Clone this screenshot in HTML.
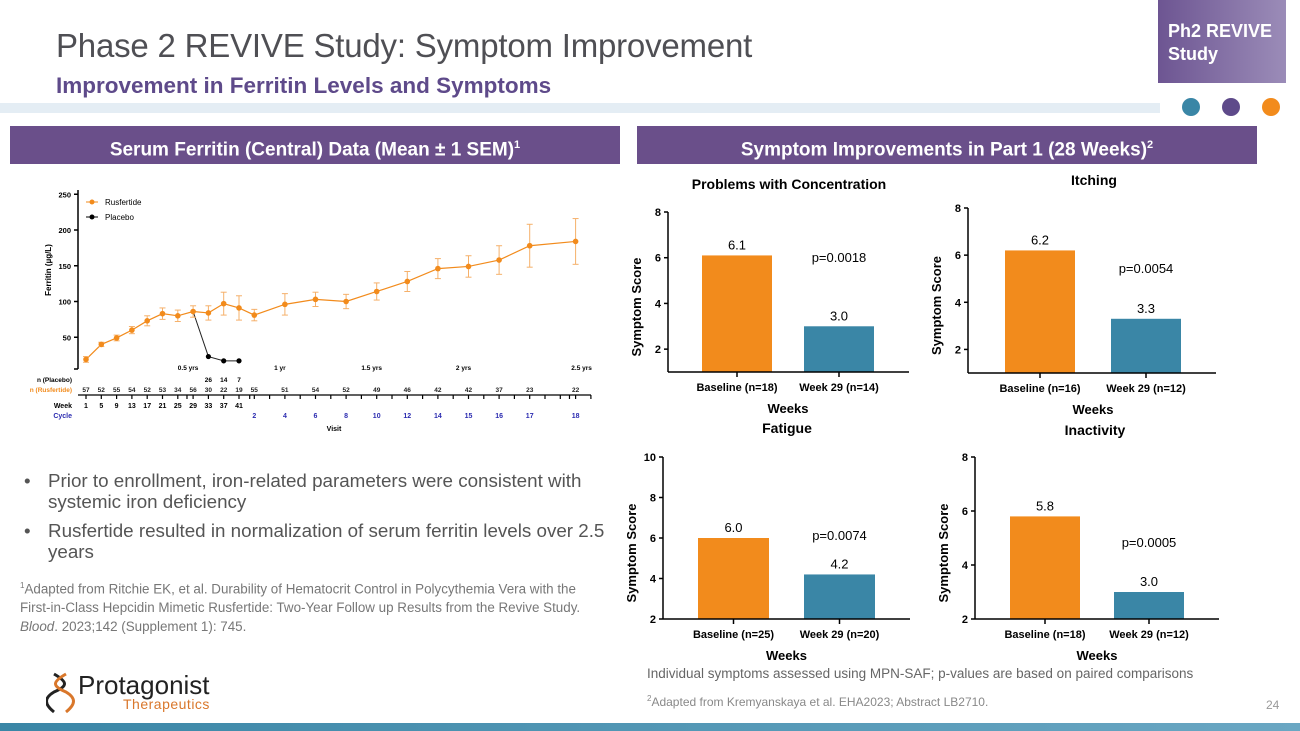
<!DOCTYPE html>
<html><head><meta charset="utf-8">
<style>
body{margin:0;width:1300px;height:731px;position:relative;background:#fff;font-family:"Liberation Sans",sans-serif;overflow:hidden}
.abs{position:absolute}
</style></head><body>
<div class="abs" style="left:56px;top:27px;font-size:33px;color:#4f4f54;letter-spacing:-0.2px">Phase 2 REVIVE Study: Symptom Improvement</div>
<div class="abs" style="left:56px;top:73px;font-size:22.5px;font-weight:bold;color:#5e4a8a">Improvement in Ferritin Levels and Symptoms</div>
<div class="abs" style="left:0;top:103px;width:1160px;height:10px;background:#e4edf4"></div>
<div class="abs" style="left:1158px;top:0;width:128px;height:83px;background:linear-gradient(90deg,#6d5592,#9b8cb8);color:#fff;font-weight:bold;font-size:18px;line-height:23px;padding:20px 0 0 10px;box-sizing:border-box">Ph2 REVIVE<br>Study</div>
<div class="abs" style="left:1182px;top:98px;width:18px;height:18px;border-radius:50%;background:#3a86a6"></div>
<div class="abs" style="left:1222px;top:98px;width:18px;height:18px;border-radius:50%;background:#5e4a8a"></div>
<div class="abs" style="left:1262px;top:98px;width:18px;height:18px;border-radius:50%;background:#f28b1c"></div>
<div class="abs" style="left:10px;top:126px;width:610px;height:38px;background:#6a4f8a;color:#fff;font-weight:bold;font-size:19px;line-height:38px;text-align:center">Serum Ferritin (Central) Data (Mean ± 1 SEM)<sup style="font-size:11px">1</sup></div>
<div class="abs" style="left:637px;top:126px;width:620px;height:38px;background:#6a4f8a;color:#fff;font-weight:bold;font-size:19px;line-height:38px;text-align:center">Symptom Improvements in Part 1 (28 Weeks)<sup style="font-size:11px">2</sup></div>

<svg class="abs" style="left:0;top:0" width="1300" height="731" font-family="Liberation Sans, sans-serif">
<g id="ferr"></g>
<g id="bars"></g>
</svg>

<div class="abs" style="left:24px;top:470px;width:590px;font-size:18.8px;color:#555;line-height:21px">
<div style="display:flex;margin-bottom:8px"><span style="width:24px;flex:none">•</span><span>Prior to enrollment, iron-related parameters were consistent with systemic iron deficiency</span></div>
<div style="display:flex"><span style="width:24px;flex:none">•</span><span>Rusfertide resulted in normalization of serum ferritin levels over 2.5 years</span></div>
</div>
<div class="abs" style="left:20px;top:576px;width:595px;font-size:13.4px;color:#777;line-height:19px"><sup style="font-size:8px">1</sup>Adapted from Ritchie EK, et al. Durability of Hematocrit Control in Polycythemia Vera with the First&#8209;in&#8209;Class Hepcidin Mimetic Rusfertide: Two-Year Follow up Results from the Revive Study. <i>Blood</i>. 2023;142 (Supplement 1): 745.</div>
<div class="abs" style="left:647px;top:666px;font-size:13.5px;color:#666">Individual symptoms assessed using MPN-SAF; p-values are based on paired comparisons</div>
<div class="abs" style="left:647px;top:694px;font-size:12px;color:#888"><sup style="font-size:8px">2</sup>Adapted from Kremyanskaya et al. EHA2023; Abstract LB2710.</div>
<div class="abs" style="left:1266px;top:698px;font-size:12px;color:#999">24</div>
<div class="abs" style="left:46px;top:672px;width:180px;height:42px">
<svg width="30" height="42" style="position:absolute;left:0;top:0"><path d="M8 2 C22 10,22 14,8 20 C-2 26,-2 32,8 40" stroke="#222" stroke-width="3" fill="none"/><path d="M20 2 C6 10,6 14,20 20 C30 26,30 32,20 40" stroke="#d9772b" stroke-width="3" fill="none"/></svg>
<div style="position:absolute;left:32px;top:-2px;font-size:26px;color:#222">Protagonist</div>
<div style="position:absolute;left:77px;top:24px;font-size:14px;color:#d9772b;letter-spacing:0.5px">Therapeutics</div>
</div>
<div class="abs" style="left:0;top:723px;width:1300px;height:8px;background:linear-gradient(90deg,#3a86a6,#6aa7c3)"></div>

<script>
const NS='http://www.w3.org/2000/svg';
function mk(p,t,a,txt){const e=document.createElementNS(NS,t);for(const k in a)e.setAttribute(k,a[k]);if(txt!=null)e.textContent=txt;p.appendChild(e);return e;}

// Ferritin data
const visitIdx=[0,1,2,3,4,5,6,7,8,9,10,11,13,15,17,19,21,23,25,27,29,32];
const rusMean=[19,40,49,60,73,83,80,86,84,97,91,81,96,103,100,114,128,146,149,158,178,184];
const rusSem=[4,3,4,5,7,8,8,8,10,16,17,8,15,10,10,12,14,14,15,20,30,32];
const placeboIdx=[7,8,9,10];
const placeboMean=[86,23,17,17];
const nRus=['57','52','55','54','52','53','34','56','30','22','19','55','51','54','52','49','46','42','42','37','23','22'];
const nPlacebo=['','','','','','','','','26','14','7'];
const weekLabels=['1','5','9','13','17','21','25','29','33','37','41'];
const cycleLabels=['2','4','6','8','10','12','14','15','16','17','18'];
const yTicks=[50,100,150,200,250];
const yearLabels=['0.5 yrs','1 yr','1.5 yrs','2 yrs','2.5 yrs'];
const yearIdx=[7,13,19,25,32];

const fx=i=>86+15.3*i, fy=v=>373-0.715*v;
const F=document.getElementById('ferr');
mk(F,'line',{x1:78,y1:190,x2:78,y2:369,stroke:'#000','stroke-width':1.5});
yTicks.forEach(t=>{mk(F,'line',{x1:74,y1:fy(t),x2:78,y2:fy(t),stroke:'#000','stroke-width':1.5});mk(F,'text',{x:71,y:fy(t)+3,'font-size':7.5,'font-weight':'bold','text-anchor':'end'},t);});
mk(F,'line',{x1:74,y1:369,x2:78,y2:369,stroke:'#000','stroke-width':1.5});
mk(F,'text',{x:0,y:0,'font-size':8,'font-weight':'bold','text-anchor':'middle',transform:'translate(51,270) rotate(-90)'},'Ferritin (µg/L)');
// legend
mk(F,'line',{x1:86,y1:202,x2:98,y2:202,stroke:'#f28b1c'});mk(F,'circle',{cx:92,cy:202,r:2.5,fill:'#f28b1c'});
mk(F,'text',{x:105,y:205,'font-size':8},'Rusfertide');
mk(F,'line',{x1:86,y1:217,x2:98,y2:217,stroke:'#000'});mk(F,'circle',{cx:92,cy:217,r:2.5,fill:'#000'});
mk(F,'text',{x:105,y:220,'font-size':8},'Placebo');
// placebo
mk(F,'polyline',{points:placeboIdx.map((d,i)=>fx(d)+','+fy(placeboMean[i])).join(' '),fill:'none',stroke:'#222','stroke-width':1});
placeboIdx.forEach((d,i)=>{if(i>0){const c=mk(F,'circle',{cx:fx(d),cy:fy(placeboMean[i]),r:2.6,fill:'#000'});}});
// rusfertide
mk(F,'polyline',{points:visitIdx.map((d,i)=>fx(d)+','+fy(rusMean[i])).join(' '),fill:'none',stroke:'#f28b1c','stroke-width':1.2});
visitIdx.forEach((d,i)=>{const x=fx(d),lo=fy(rusMean[i]-rusSem[i]),hi=fy(rusMean[i]+rusSem[i]);
mk(F,'line',{x1:x,y1:lo,x2:x,y2:hi,stroke:'#f5b06a'});mk(F,'line',{x1:x-3,y1:lo,x2:x+3,y2:lo,stroke:'#f5b06a'});mk(F,'line',{x1:x-3,y1:hi,x2:x+3,y2:hi,stroke:'#f5b06a'});
const c=mk(F,'circle',{cx:x,cy:fy(rusMean[i]),r:2.8,fill:'#f28b1c'});


mk(F,'text',{x:x,y:392,'font-size':6.5,'font-weight':'bold','text-anchor':'middle',fill:'#222'},nRus[i]);});
nPlacebo.forEach((n,i)=>{if(n)mk(F,'text',{x:fx(i),y:382,'font-size':6.5,'font-weight':'bold','text-anchor':'middle'},n);});
yearLabels.forEach((l,i)=>mk(F,'text',{x:fx(yearIdx[i])+(i==4?6:-5),y:370,'font-size':6.5,'font-weight':'bold','text-anchor':'middle'},l));
mk(F,'text',{x:72,y:382,'font-size':6.5,'font-weight':'bold','text-anchor':'end'},'n (Placebo)');
mk(F,'text',{x:72,y:392,'font-size':6.5,'font-weight':'bold','text-anchor':'end',fill:'#f28b1c'},'n (Rusfertide)');
mk(F,'line',{x1:78,y1:395,x2:591,y2:395,stroke:'#000','stroke-width':1.3});
for(let i=0;i<=33;i++)mk(F,'line',{x1:fx(i),y1:395,x2:fx(i),y2:399,stroke:'#000','stroke-width':1.2});
[6.6,10.7,31.6].forEach(i=>mk(F,'line',{x1:fx(i),y1:395,x2:fx(i),y2:399,stroke:'#000','stroke-width':1.2}));
mk(F,'text',{x:72,y:408,'font-size':7,'font-weight':'bold','text-anchor':'end'},'Week');
mk(F,'text',{x:72,y:418,'font-size':7,'font-weight':'bold','text-anchor':'end',fill:'#2b2bb0'},'Cycle');
weekLabels.forEach((w,i)=>mk(F,'text',{x:fx(i),y:408,'font-size':7,'font-weight':'bold','text-anchor':'middle'},w));
cycleLabels.forEach((c,i)=>mk(F,'text',{x:fx(visitIdx[11+i]),y:418,'font-size':7,'font-weight':'bold','text-anchor':'middle',fill:'#2b2bb0'},c));
mk(F,'text',{x:334,y:431,'font-size':7,'font-weight':'bold','text-anchor':'middle'},'Visit');

// symptom bars
const titles=['Problems with Concentration','Itching','Fatigue','Inactivity'];
const baselineVals=[6.1,6.2,6.0,5.8];
const week29Vals=[3.0,3.3,4.2,3.0];
const pValues=['p=0.0018','p=0.0054','p=0.0074','p=0.0005'];
const baseN=['Baseline (n=18)','Baseline (n=16)','Baseline (n=25)','Baseline (n=18)'];
const weekN=['Week 29 (n=14)','Week 29 (n=12)','Week 29 (n=20)','Week 29 (n=12)'];
const yMax=[8,8,10,8];
const tickSets=[[2,4,6,8],[2,4,6,8],[2,4,6,8,10],[2,4,6,8]];
const panels=[{ax:668,top:212,bot:372,b1:702,b2:804,w:70,tx:789,ty:189,pY:262},
{ax:968,top:208,bot:373,b1:1005,b2:1111,w:70,tx:1094,ty:185,pY:273},
{ax:663,top:457,bot:619,b1:698,b2:804,w:71,tx:787,ty:433,pY:540},
{ax:975,top:457,bot:619,b1:1010,b2:1114,w:70,tx:1095,ty:435,pY:547}];
const B=document.getElementById('bars');
panels.forEach((p,k)=>{
 const g=mk(B,'g',{});
 
 
 const mn=1+(k>=2?1:0);
 const y=v=>p.bot-(v-mn)/(yMax[k]-mn)*(p.bot-p.top);
 mk(g,'text',{x:p.tx,y:p.ty,'font-size':14,'font-weight':'bold','text-anchor':'middle'},titles[k]);
 [[baselineVals[k],p.b1,'#f28b1c'],[week29Vals[k],p.b2,'#3a86a6']].forEach(([v,x,c])=>{
  const r=mk(g,'rect',{x:x,y:y(v),width:p.w,height:p.bot-y(v),fill:c});
  
  
  mk(g,'text',{x:x+p.w/2,y:y(v)-6,'font-size':13,'text-anchor':'middle'},v.toFixed(1));});
 mk(g,'text',{x:p.b2+p.w/2,y:p.pY,'font-size':13,'text-anchor':'middle'},pValues[k]);
 mk(g,'line',{x1:p.ax,y1:p.top,x2:p.ax,y2:p.bot,stroke:'#000','stroke-width':1.5});
 mk(g,'line',{x1:p.ax,y1:p.bot,x2:p.b2+p.w+35,y2:p.bot,stroke:'#000','stroke-width':1.5});
 tickSets[k].forEach(t=>{mk(g,'line',{x1:p.ax-4,y1:y(t),x2:p.ax,y2:y(t),stroke:'#000','stroke-width':1.5});mk(g,'text',{x:p.ax-7,y:y(t)+4,'font-size':11,'font-weight':'bold','text-anchor':'end'},t);});
 [p.b1,p.b2].forEach(x=>mk(g,'line',{x1:x+p.w/2,y1:p.bot,x2:x+p.w/2,y2:p.bot+5,stroke:'#000','stroke-width':1.5}));
 mk(g,'text',{x:p.b1+p.w/2,y:p.bot+19,'font-size':11,'font-weight':'bold','text-anchor':'middle'},baseN[k]);
 mk(g,'text',{x:p.b2+p.w/2,y:p.bot+19,'font-size':11,'font-weight':'bold','text-anchor':'middle'},weekN[k]);
 mk(g,'text',{x:(p.b1+p.b2+p.w)/2,y:p.bot+41,'font-size':13,'font-weight':'bold','text-anchor':'middle'},'Weeks');
 mk(g,'text',{x:0,y:0,'font-size':13,'font-weight':'bold','text-anchor':'middle',transform:`translate(${p.ax-27},${(p.top+p.bot)/2+15}) rotate(-90)`},'Symptom Score');
});
</script>
</body></html>
